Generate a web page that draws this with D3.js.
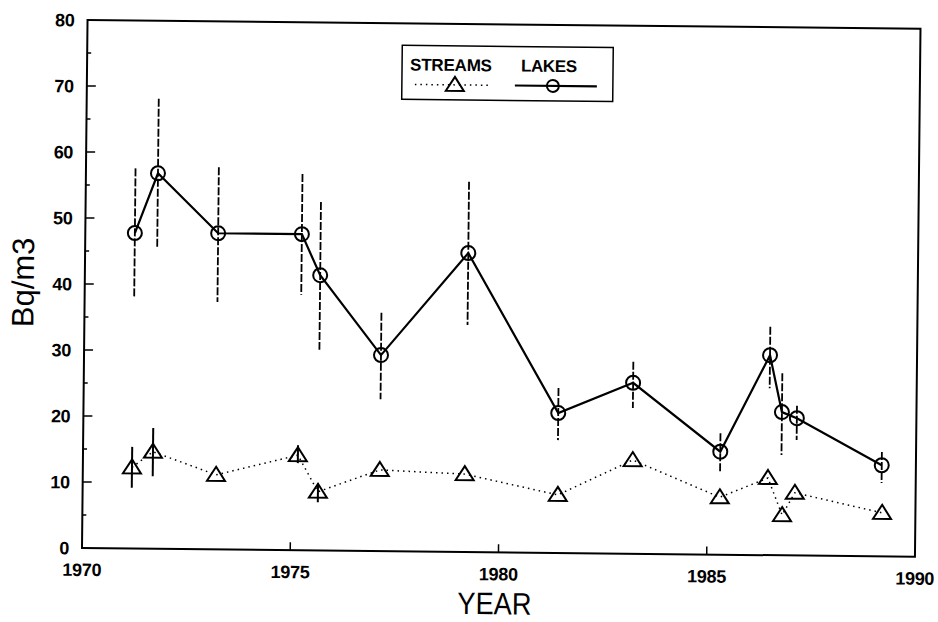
<!DOCTYPE html>
<html>
<head>
<meta charset="utf-8">
<script src="https://cdn.jsdelivr.net/npm/d3@7"></script>
<style>
  body { margin: 0; background: #fff; }
  text { font-family: "Liberation Sans", Arial, sans-serif; fill: #000; }
</style>
</head>
<body>
<svg id="chart" width="938" height="622"></svg>
<script>
// lakes (solid line, circles)
var lakeYears = [1971.19, 1971.73, 1973.19, 1975.2, 1975.65, 1977.13, 1979.2, 1981.4, 1983.19, 1985.3, 1986.47, 1986.77, 1987.13, 1989.18];
var lakeValues = [47.8, 56.9, 47.9, 47.9, 41.7, 29.7, 45.3, 21.2, 25.9, 15.6, 30.3, 21.7, 20.8, 13.8];
var lakeHigh = [57.6, 68.2, 57.9, 57.0, 52.8, 36.1, 56.1, 25.0, 29.1, 18.4, 34.6, 27.6, 22.7, 15.8];
var lakeLow = [38.1, 45.6, 37.5, 38.7, 30.4, 23.0, 34.4, 17.1, 22.1, 12.4, 25.3, 15.2, 17.5, 11.1];

// streams (dotted line, triangles)
var streamYears = [1971.18, 1971.68, 1973.2, 1975.16, 1975.65, 1977.13, 1979.17, 1981.41, 1983.2, 1985.3, 1986.45, 1986.8, 1987.1, 1989.2];
var streamValues = [12.3, 14.7, 11.3, 14.4, 8.9, 12.3, 11.8, 8.8, 14.2, 8.7, 11.7, 6.1, 9.5, 6.6];
var streamHigh = [15.4, 18.3, null, 15.9, 10.2, null, null, null, null, null, null, null, null, null];
var streamLow = [9.2, 11.0, null, 13.2, 7.3, null, null, null, null, null, null, null, null, null];

var xTicks = [1970, 1975, 1980, 1985, 1990];
var yTicks = [0, 10, 20, 30, 40, 50, 60, 70, 80];
var yMinorTicks = [5, 15, 25, 35, 45, 55, 65, 75];

var width = 833, height = 528;

var lakes = lakeYears.map(function (d, i) {
    return { year: d, value: lakeValues[i], hi: lakeHigh[i], lo: lakeLow[i] };
});
var streams = streamYears.map(function (d, i) {
    return { year: d, value: streamValues[i], hi: streamHigh[i], lo: streamLow[i] };
});

var x = d3.scaleLinear().domain([1970, 1990]).range([0, width]);
var y = d3.scaleLinear().domain([0, 80]).range([0, -height]);

var svg = d3.select("#chart");

// the scanned page is slightly tilted, so the whole plot is rotated a bit
var g = svg.append("g").attr("transform", "translate(82,548) rotate(0.6)");

g.append("rect")
    .attr("x", 0).attr("y", -height)
    .attr("width", width).attr("height", height)
    .attr("fill", "none").attr("stroke", "#000").attr("stroke-width", 2);

// ticks point inward
g.selectAll(".ytick").data(yTicks.slice(1, -1)).enter()
    .append("line")
    .attr("x1", 0).attr("x2", 9)
    .attr("y1", d => y(d)).attr("y2", d => y(d))
    .attr("stroke", "#000").attr("stroke-width", 1.5);
g.selectAll(".yminor").data(yMinorTicks).enter()
    .append("line")
    .attr("x1", 0).attr("x2", 4)
    .attr("y1", d => y(d)).attr("y2", d => y(d))
    .attr("stroke", "#000").attr("stroke-width", 1.5);
g.selectAll(".xtick").data(xTicks.slice(1, -1)).enter()
    .append("line")
    .attr("x1", d => x(d)).attr("x2", d => x(d))
    .attr("y1", 0).attr("y2", -8)
    .attr("stroke", "#000").attr("stroke-width", 1.5);

g.selectAll(".ylabel").data(yTicks).enter()
    .append("text")
    .attr("x", -13).attr("y", d => y(d))
    .attr("dy", "0.36em")
    .attr("text-anchor", "end")
    .style("font-size", "18px").style("font-weight", "bold")
    .style("letter-spacing", "-0.3px")
    .text(d => d);
g.selectAll(".xlabel").data(xTicks).enter()
    .append("text")
    .attr("x", d => x(d)).attr("y", 28)
    .attr("text-anchor", "middle")
    .style("font-size", "18px").style("font-weight", "bold")
    .style("letter-spacing", "-0.3px")
    .text(d => d);

g.append("text")
    .attr("x", 413).attr("y", 62)
    .attr("text-anchor", "middle")
    .attr("textLength", 74).attr("lengthAdjust", "spacingAndGlyphs")
    .style("font-size", "31px")
    .text("YEAR");
g.append("text")
    .attr("transform", "translate(-51,-265) rotate(-90)")
    .attr("text-anchor", "middle")
    .style("font-size", "31px")
    .text("Bq/m3");

// error bars
g.selectAll(".lakeErr").data(lakes).enter()
    .append("line")
    .attr("x1", d => x(d.year)).attr("x2", d => x(d.year))
    .attr("y1", d => y(d.hi)).attr("y2", d => y(d.lo))
    .attr("stroke", "#000").attr("stroke-width", 1.8)
    .attr("stroke-dasharray", "8,2");
g.selectAll(".streamErr").data(streams.filter(d => d.hi != null)).enter()
    .append("line")
    .attr("x1", d => x(d.year)).attr("x2", d => x(d.year))
    .attr("y1", d => y(d.hi)).attr("y2", d => y(d.lo))
    .attr("stroke", "#000").attr("stroke-width", 2);

var line = d3.line().x(d => x(d.year)).y(d => y(d.value));

g.append("path").datum(streams)
    .attr("d", line)
    .attr("fill", "none").attr("stroke", "#000")
    .attr("stroke-width", 1.5).attr("stroke-dasharray", "1.5,4");
g.append("path").datum(lakes)
    .attr("d", line)
    .attr("fill", "none").attr("stroke", "#000").attr("stroke-width", 2.2);

var tri = "M0,-8L9,6L-9,6Z";

g.selectAll(".tri").data(streams).enter()
    .append("path")
    .attr("d", tri)
    .attr("transform", d => "translate(" + x(d.year) + "," + y(d.value) + ")")
    .attr("fill", "none").attr("stroke", "#000").attr("stroke-width", 2);
g.selectAll(".circ").data(lakes).enter()
    .append("circle")
    .attr("cx", d => x(d.year)).attr("cy", d => y(d.value))
    .attr("r", 7)
    .attr("fill", "none").attr("stroke", "#000").attr("stroke-width", 2);

// legend
var legend = g.append("g").attr("transform", "translate(315,-506)");
legend.append("rect")
    .attr("width", 211).attr("height", 54)
    .attr("fill", "#fff").attr("stroke", "#000").attr("stroke-width", 1.5);
legend.append("text")
    .attr("x", 8).attr("y", 25)
    .style("font-size", "17px").style("font-weight", "bold").style("letter-spacing", "-0.2px")
    .text("STREAMS");
legend.append("text")
    .attr("x", 119).attr("y", 25)
    .style("font-size", "17px").style("font-weight", "bold").style("letter-spacing", "-0.4px")
    .text("LAKES");
legend.append("line")
    .attr("x1", 13).attr("x2", 90).attr("y1", 39).attr("y2", 39)
    .attr("stroke", "#000").attr("stroke-width", 1.5).attr("stroke-dasharray", "1.5,4");
legend.append("path")
    .attr("d", tri)
    .attr("transform", "translate(53,39)")
    .attr("fill", "none").attr("stroke", "#000").attr("stroke-width", 2);
legend.append("line")
    .attr("x1", 113).attr("x2", 195).attr("y1", 39).attr("y2", 39)
    .attr("stroke", "#000").attr("stroke-width", 2.2);
legend.append("circle")
    .attr("cx", 151).attr("cy", 39).attr("r", 6)
    .attr("fill", "none").attr("stroke", "#000").attr("stroke-width", 2);
</script>
</body>
</html>
